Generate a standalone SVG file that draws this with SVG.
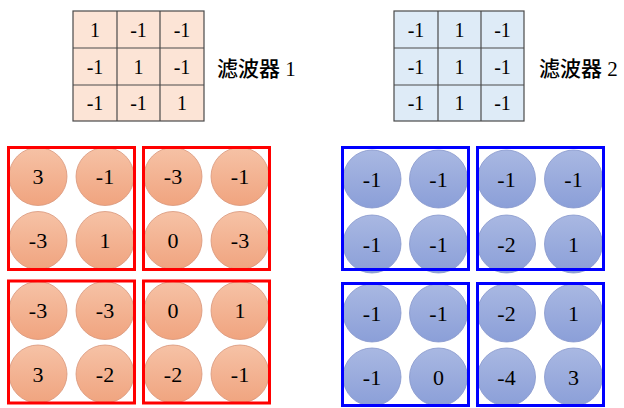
<svg xmlns="http://www.w3.org/2000/svg" width="624" height="408" viewBox="0 0 624 408">
<defs>
<linearGradient id="go" x1="0" y1="0" x2="0" y2="1"><stop offset="0" stop-color="#f6c2a6"/><stop offset="1" stop-color="#f0a47f"/></linearGradient>
<linearGradient id="gb" x1="0" y1="0" x2="0" y2="1"><stop offset="0" stop-color="#a9b8e2"/><stop offset="1" stop-color="#8b9fd8"/></linearGradient>
<style>
text{font-family:"Liberation Serif","Noto Sans CJK SC",serif;font-size:22px;fill:#000;text-anchor:middle;dominant-baseline:central}
.g1 text,.g2 text{font-size:20px}
.lab{text-anchor:start;font-size:21px;font-weight:500}
.g1 rect,.g1 line{stroke:#4a4a4a;stroke-width:1.2}
.g1 rect{fill:#fce4d6}
.g2 rect,.g2 line{stroke:#4a4a4a;stroke-width:1.2}
.g2 rect{fill:#deebf7}
.co{fill:url(#go);stroke:#d8957a;stroke-width:0.8}
.cb{fill:url(#gb);stroke:#8797cc;stroke-width:0.8}
.rb{fill:none;stroke:#ff0000;stroke-width:3}
.bb{fill:none;stroke:#0000ff;stroke-width:3}
</style>
</defs>

<g id="filter1" class="g1">
<rect x="73" y="11" width="131" height="110"/>
<line x1="117" y1="11" x2="117" y2="121"/><line x1="160" y1="11" x2="160" y2="121"/>
<line x1="73" y1="48" x2="204" y2="48"/><line x1="73" y1="85" x2="204" y2="85"/>
<text x="95" y="30">1</text><text x="138.5" y="30">-1</text><text x="182" y="30">-1</text>
<text x="95" y="67">-1</text><text x="138.5" y="67">1</text><text x="182" y="67">-1</text>
<text x="95" y="103">-1</text><text x="138.5" y="103">-1</text><text x="182" y="103">1</text>
</g>
<g id="label1"><text class="lab" x="217" y="69">滤波器 1</text></g>

<g id="filter2" class="g2">
<rect x="394" y="11" width="130" height="110"/>
<line x1="438" y1="11" x2="438" y2="121"/><line x1="481" y1="11" x2="481" y2="121"/>
<line x1="394" y1="48" x2="524" y2="48"/><line x1="394" y1="85" x2="524" y2="85"/>
<text x="416" y="30">-1</text><text x="459.5" y="30">1</text><text x="502.5" y="30">-1</text>
<text x="416" y="67">-1</text><text x="459.5" y="67">1</text><text x="502.5" y="67">-1</text>
<text x="416" y="103">-1</text><text x="459.5" y="103">1</text><text x="502.5" y="103">-1</text>
</g>
<g id="label2"><text class="lab" x="539" y="69">滤波器 2</text></g>

<g id="r1">
<circle class="co" cx="38" cy="176.5" r="29"/><circle class="co" cx="105" cy="176.5" r="29"/>
<circle class="co" cx="38" cy="240.5" r="29"/><circle class="co" cx="105" cy="240.5" r="29"/>
<text x="38" y="176.5">3</text><text x="105" y="176.5">-1</text>
<text x="38" y="240.5">-3</text><text x="105" y="240.5">1</text>
<rect class="rb" x="8.5" y="147.5" width="126" height="122"/>
</g>
<g id="r2">
<circle class="co" cx="173" cy="176.5" r="29"/><circle class="co" cx="240" cy="176.5" r="29"/>
<circle class="co" cx="173" cy="240.5" r="29"/><circle class="co" cx="240" cy="240.5" r="29"/>
<text x="173" y="176.5">-3</text><text x="240" y="176.5">-1</text>
<text x="173" y="240.5">0</text><text x="240" y="240.5">-3</text>
<rect class="rb" x="143.5" y="147.5" width="126" height="122"/>
</g>
<g id="r3">
<circle class="co" cx="38" cy="310.5" r="29"/><circle class="co" cx="105" cy="310.5" r="29"/>
<circle class="co" cx="38" cy="374" r="29"/><circle class="co" cx="105" cy="374" r="29"/>
<text x="38" y="310.5">-3</text><text x="105" y="310.5">-3</text>
<text x="38" y="374">3</text><text x="105" y="374">-2</text>
<rect class="rb" x="8.5" y="281" width="126" height="122"/>
</g>
<g id="r4">
<circle class="co" cx="173" cy="310.5" r="29"/><circle class="co" cx="240" cy="310.5" r="29"/>
<circle class="co" cx="173" cy="374" r="29"/><circle class="co" cx="240" cy="374" r="29"/>
<text x="173" y="310.5">0</text><text x="240" y="310.5">1</text>
<text x="173" y="374">-2</text><text x="240" y="374">-1</text>
<rect class="rb" x="143.5" y="281" width="126" height="122"/>
</g>

<g id="b1">
<circle class="cb" cx="372" cy="179" r="29"/><circle class="cb" cx="438.5" cy="179" r="29"/>
<circle class="cb" cx="372" cy="244" r="29"/><circle class="cb" cx="438.5" cy="244" r="29"/>
<text x="372" y="179">-1</text><text x="438.5" y="179">-1</text>
<text x="372" y="244">-1</text><text x="438.5" y="244">-1</text>
<rect class="bb" x="342.5" y="147.5" width="126" height="122"/>
</g>
<g id="b2">
<circle class="cb" cx="506.5" cy="179" r="29"/><circle class="cb" cx="573.5" cy="179" r="29"/>
<circle class="cb" cx="506.5" cy="244" r="29"/><circle class="cb" cx="573.5" cy="244" r="29"/>
<text x="506.5" y="179">-1</text><text x="573.5" y="179">-1</text>
<text x="506.5" y="244">-2</text><text x="573.5" y="244">1</text>
<rect class="bb" x="477.5" y="147.5" width="126" height="122"/>
</g>
<g id="b3">
<circle class="cb" cx="372" cy="313" r="29"/><circle class="cb" cx="438.5" cy="313" r="29"/>
<circle class="cb" cx="372" cy="377" r="29"/><circle class="cb" cx="438.5" cy="377" r="29"/>
<text x="372" y="313">-1</text><text x="438.5" y="313">-1</text>
<text x="372" y="377">-1</text><text x="438.5" y="377">0</text>
<rect class="bb" x="342.5" y="283.5" width="126" height="122"/>
</g>
<g id="b4">
<circle class="cb" cx="506.5" cy="313" r="29"/><circle class="cb" cx="573.5" cy="313" r="29"/>
<circle class="cb" cx="506.5" cy="377" r="29"/><circle class="cb" cx="573.5" cy="377" r="29"/>
<text x="506.5" y="313">-2</text><text x="573.5" y="313">1</text>
<text x="506.5" y="377">-4</text><text x="573.5" y="377">3</text>
<rect class="bb" x="477.5" y="283.5" width="126" height="122"/>
</g>
</svg>
